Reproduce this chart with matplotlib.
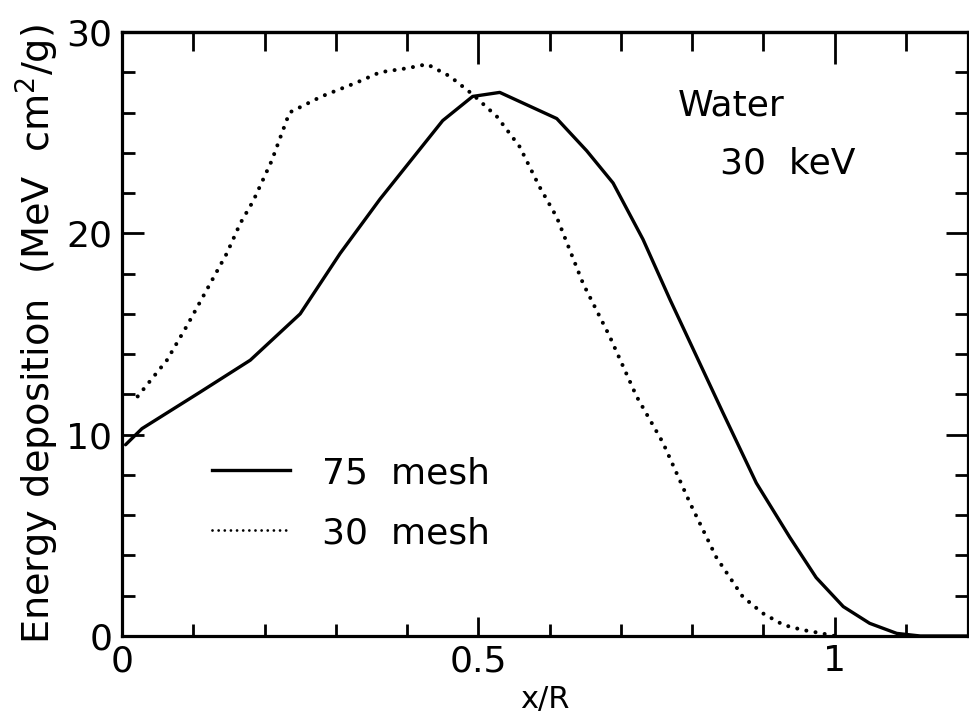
import matplotlib
matplotlib.use("Agg")
import matplotlib.pyplot as plt
from matplotlib.ticker import MultipleLocator

plt.rcParams['font.family'] = ['DejaVu Sans']
plt.rcParams['mathtext.fontset'] = 'dejavusans'

# Energy deposition profiles, 30 keV in water
x_75 = [0.005, 0.028, 0.109, 0.18, 0.25, 0.306, 0.362, 0.45, 0.492, 0.53,
        0.61, 0.652, 0.689, 0.731, 0.769, 0.806, 0.843, 0.890, 0.937, 0.974,
        1.012, 1.049, 1.087, 1.12, 1.19]
y_75 = [9.5, 10.3, 12.1, 13.7, 16.0, 19.0, 21.7, 25.6, 26.8, 27.0,
        25.7, 24.1, 22.5, 19.7, 16.7, 13.9, 11.1, 7.6, 4.9, 2.9,
        1.46, 0.63, 0.13, 0.0, 0.0]

x_30 = [0.022, 0.063, 0.091, 0.119, 0.147, 0.166, 0.184, 0.21, 0.235, 0.28,
        0.33, 0.362, 0.40, 0.428, 0.46, 0.492, 0.526, 0.558, 0.586, 0.610,
        0.647, 0.684, 0.722, 0.759, 0.797, 0.834, 0.871, 0.899, 0.928, 0.955,
        0.979, 1.0]
y_30 = [11.9, 13.7, 15.4, 17.2, 19.0, 20.5, 21.6, 23.6, 26.0, 26.8,
        27.5, 28.0, 28.2, 28.4, 27.8, 26.9, 25.8, 24.3, 22.3, 20.8,
        17.5, 14.9, 11.9, 9.6, 6.6, 3.9, 1.95, 1.13, 0.55, 0.3,
        0.15, 0.0]

labels = ["75  mesh", "30  mesh"]
x_ticks = [0, 0.5, 1]
x_ticklabels = ["0", "0.5", "1"]
y_ticks = [0, 10, 20, 30]
y_ticklabels = ["0", "10", "20", "30"]

fig = plt.figure(figsize=(9.69, 7.19), dpi=100)
ax = fig.add_axes([122/969, 1 - 636/719, 846/969, (636 - 32)/719])

lw = 2.4
solid_line, = ax.plot(x_75, y_75, color='black', lw=lw, solid_capstyle='round',
                      solid_joinstyle='round')
dotted_line, = ax.plot(x_30, y_30, color='black', lw=2.9,
                       linestyle=(0, (0.01, 2.3)), dash_capstyle='round')

ax.set_xlim(0, 1.187)
ax.set_ylim(0, 30)

ax.set_xticks(x_ticks)
ax.set_xticklabels(x_ticklabels)
ax.xaxis.set_minor_locator(MultipleLocator(0.1))
ax.set_yticks(y_ticks)
ax.set_yticklabels(y_ticklabels)
ax.yaxis.set_minor_locator(MultipleLocator(2))

for s in ax.spines.values():
    s.set_linewidth(2.3)

ax.tick_params(which='both', direction='in', top=False, right=True,
               width=2.0, labelsize=26, colors='black')
ax.tick_params(axis='x', which='major', length=14, pad=6)
ax.tick_params(axis='x', which='minor', length=8.5)
ax.tick_params(axis='y', which='major', length=16, pad=7)
ax.tick_params(axis='y', which='minor', length=9.5)

# top axis carries longer inward ticks, no labels
top = ax.secondary_xaxis('top')
top.set_xticks(x_ticks)
top.xaxis.set_minor_locator(MultipleLocator(0.1))
top.tick_params(which='both', direction='in', width=2.0, labeltop=False)
top.tick_params(which='major', length=23)
top.tick_params(which='minor', length=13.5)
top.spines['top'].set_linewidth(2.3)

ax.set_xlabel("x/R", fontsize=22, labelpad=5)
ax.set_ylabel("Energy deposition  (MeV  cm$^2$/g)", fontsize=27.5, labelpad=4)

# hand-placed key: line samples followed by their labels
key_y = [0.275, 0.175]
styles = [dict(lw=lw), dict(lw=2.0, linestyle=(0, (0.01, 2.2)), dash_capstyle='round')]
for yk, lab, st in zip(key_y, labels, styles):
    ax.plot([0.106, 0.199], [yk, yk], color='black', transform=ax.transAxes, **st)
    ax.text(0.236, yk, lab, transform=ax.transAxes, fontsize=26,
            ha='left', va='center_baseline')

ax.text(0.657, 0.884, "Water", transform=ax.transAxes, fontsize=26,
        ha='left', va='center_baseline')
ax.text(0.707, 0.788, "30  keV", transform=ax.transAxes, fontsize=26,
        ha='left', va='center_baseline')

fig.savefig("out.png", dpi=100)
